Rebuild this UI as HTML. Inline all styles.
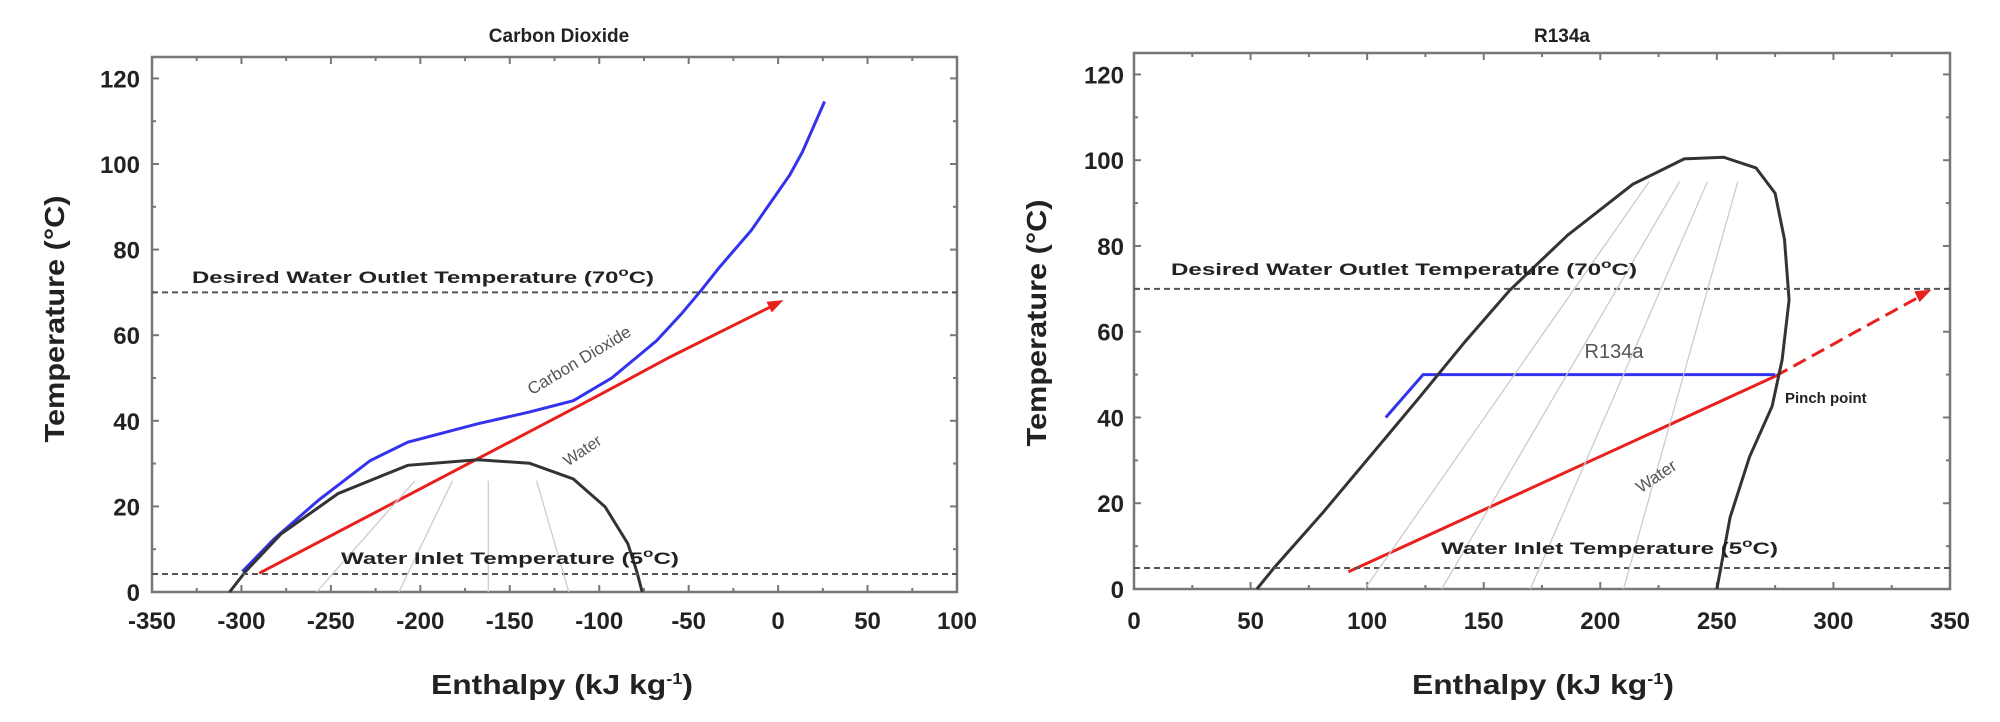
<!DOCTYPE html>
<html><head><meta charset="utf-8"><style>
html,body{margin:0;padding:0;background:#fff}
svg{display:block}
text{font-family:"Liberation Sans",Arial,sans-serif}
.tk{font-weight:bold;font-size:24px;fill:#222}
.ttl{font-weight:bold;font-size:19px;fill:#222}
.ax{font-weight:bold;font-size:28px;fill:#222}
.lab{font-weight:bold;font-size:17px;fill:#222}
</style></head><body>
<svg id="s" width="2000" height="722" viewBox="0 0 2000 722" xmlns="http://www.w3.org/2000/svg">
<g id="g1"></g>
<!-- Left texts -->
<text class="ttl" x="559" y="42" text-anchor="middle">Carbon Dioxide</text>
<text class="ax" x="562" y="694" text-anchor="middle" textLength="262" lengthAdjust="spacingAndGlyphs">Enthalpy (kJ kg<tspan dy="-10" font-size="16">-1</tspan><tspan dy="10">)</tspan></text>
<text class="ax" transform="translate(64,319) rotate(-90)" text-anchor="middle" textLength="247" lengthAdjust="spacingAndGlyphs">Temperature (°C)</text>
<text class="lab" x="192" y="283" textLength="462" lengthAdjust="spacingAndGlyphs">Desired Water Outlet Temperature (70<tspan dy="-7" font-size="12">o</tspan><tspan dy="7">C)</tspan></text>
<text class="lab" x="341" y="564" textLength="338" lengthAdjust="spacingAndGlyphs">Water Inlet Temperature (5<tspan dy="-7" font-size="12">o</tspan><tspan dy="7">C)</tspan></text>
<text x="579" y="366" font-size="17" fill="#555" text-anchor="middle" transform="rotate(-31 579 360)">Carbon Dioxide</text>
<text x="582" y="456" font-size="16" fill="#555" text-anchor="middle" transform="rotate(-34 582 450)">Water</text>
<!-- Right texts -->
<text class="ttl" x="1562" y="42" text-anchor="middle">R134a</text>
<text class="ax" x="1543" y="694" text-anchor="middle" textLength="262" lengthAdjust="spacingAndGlyphs">Enthalpy (kJ kg<tspan dy="-10" font-size="16">-1</tspan><tspan dy="10">)</tspan></text>
<text class="ax" transform="translate(1046,323) rotate(-90)" text-anchor="middle" textLength="247" lengthAdjust="spacingAndGlyphs">Temperature (°C)</text>
<text class="lab" x="1171" y="275" textLength="466" lengthAdjust="spacingAndGlyphs">Desired Water Outlet Temperature (70<tspan dy="-7" font-size="12">o</tspan><tspan dy="7">C)</tspan></text>
<text class="lab" x="1441" y="554" textLength="337" lengthAdjust="spacingAndGlyphs">Water Inlet Temperature (5<tspan dy="-7" font-size="12">o</tspan><tspan dy="7">C)</tspan></text>
<text x="1614" y="358" font-size="20" fill="#555" text-anchor="middle">R134a</text>
<text class="lab" x="1785" y="403" font-size="15" style="font-size:15px">Pinch point</text>
<text x="1656" y="482" font-size="17" fill="#555" text-anchor="middle" transform="rotate(-34 1656 476)">Water</text>
</svg>
<script>
var NS="http://www.w3.org/2000/svg",svg=document.getElementById('s');
function el(t,a){var e=document.createElementNS(NS,t);for(var k in a)e.setAttribute(k,a[k]);svg.insertBefore(e,svg.firstChild.nextSibling);return e;}
function plot(P){
 var X=function(h){return P.x0+(h-P.hmin)/(P.hmax-P.hmin)*(P.x1-P.x0)};
 var Y=function(t){return P.y0-(t)/(P.tmax)*(P.y0-P.y1)};
 function path(pts,st){var d=pts.map(function(p,i){return (i?'L':'M')+X(p[0]).toFixed(1)+' '+Y(p[1]).toFixed(1)}).join(' ');el('path',Object.assign({d:d,fill:'none'},st));}
 P.gray.forEach(function(g){path(g,{stroke:'#ccc','stroke-width':1.3});});
 [70,P.low].forEach(function(t){el('line',{x1:P.x0,x2:P.x1,y1:Y(t),y2:Y(t),stroke:'#555','stroke-width':2,'stroke-dasharray':'6 4'});});
 path(P.dome,{stroke:'#333','stroke-width':3});
 path(P.blue,{stroke:'#3333ee','stroke-width':3});
 path(P.red,{stroke:'#e8201e','stroke-width':3});
 if(P.redDash)path(P.redDash,{stroke:'#e8201e','stroke-width':3,'stroke-dasharray':'14 7'});
 var a=P.arrow,ex=X(a[2]),ey=Y(a[3]),sx=X(a[0]),sy=Y(a[1]),ang=Math.atan2(ey-sy,ex-sx);
 var L=16,W=6;el('polygon',{points:[ex,ey,ex-L*Math.cos(ang)+W*Math.sin(ang),ey-L*Math.sin(ang)-W*Math.cos(ang),ex-L*Math.cos(ang)-W*Math.sin(ang),ey-L*Math.sin(ang)+W*Math.cos(ang)].join(' '),fill:'#e8201e'});
 el('rect',{x:P.x0,y:P.y1,width:P.x1-P.x0,height:P.y0-P.y1,fill:'none',stroke:'#777','stroke-width':2.5});
 for(var h=P.hmin;h<=P.hmax;h+=25){var x=X(h),l=(h-P.hmin)%50==0?7:4;
  el('line',{x1:x,x2:x,y1:P.y0,y2:P.y0-l,stroke:'#777','stroke-width':2});el('line',{x1:x,x2:x,y1:P.y1,y2:P.y1+l,stroke:'#777','stroke-width':2});
  if((h-P.hmin)%50==0){var t=el('text',{x:x,y:629,'class':'tk','text-anchor':'middle'});t.textContent=h;svg.appendChild(t);}}
 for(var T=0;T<=P.tmax;T+=10){var y=Y(T),l=T%20==0?7:4;
  el('line',{x1:P.x0,x2:P.x0+l,y1:y,y2:y,stroke:'#777','stroke-width':2});el('line',{x1:P.x1,x2:P.x1-l,y1:y,y2:y,stroke:'#777','stroke-width':2});
  if(T%20==0){var t=el('text',{x:P.lx,y:y+9,'class':'tk','text-anchor':'end'});t.textContent=T;svg.appendChild(t);}}
}
plot({x0:152,x1:957,y0:592,y1:57,hmin:-350,hmax:100,tmax:125,lx:140,low:4.2,
 gray:[[[-258,0],[-203,26]],[[-212,0],[-182,26]],[[-162,0],[-162,26]],[[-117,0],[-135,26]]],
 dome:[[-306.6,0],[-297.7,4.8],[-278,13.5],[-246,23],[-207,29.6],[-168,30.9],[-139,30.1],[-114.5,26.4],[-96.7,19.9],[-84,11.3],[-79,4.8],[-76,0]],
 blue:[[-299.5,4.8],[-281.7,12.4],[-256.8,21.5],[-228,30.7],[-207,35],[-168,39.3],[-139.4,42],[-114.5,44.7],[-93,50],[-68,58.7],[-54,65],[-43,70.5],[-32.7,75.9],[-15,84.5],[6.5,97.4],[13.6,102.8],[26,114.6]],
 red:[[-290,4.4],[-100,46],[-60,55],[0,67.5]],arrow:[-20,63.5,3,68.2]});
plot({x0:1134,x1:1950,y0:589,y1:53,hmin:0,hmax:350,tmax:125,lx:1124,low:4.9,
 gray:[[[99,0],[221,95]],[[132,0],[234,95]],[[170,0],[246,95]],[[210,0],[259,95]]],
 dome:[[52.7,0],[60,4.9],[81,17.8],[106,34],[122.6,44.8],[142,57.7],[161,69.6],[186,82.5],[214,94.4],[236,100.3],[252.9,100.7],[266.8,98.2],[275,92.3],[279,81.5],[281,67.4],[278,53.4],[273.7,42.6],[264,30.8],[255.7,16.7],[250,0]],
 blue:[[108,40],[124,50],[275,50]],
 red:[[92,4],[275,49.6]],redDash:[[275,49.6],[338,68.5]],arrow:[320,64,342,69.8]});
</script>
</body></html>
